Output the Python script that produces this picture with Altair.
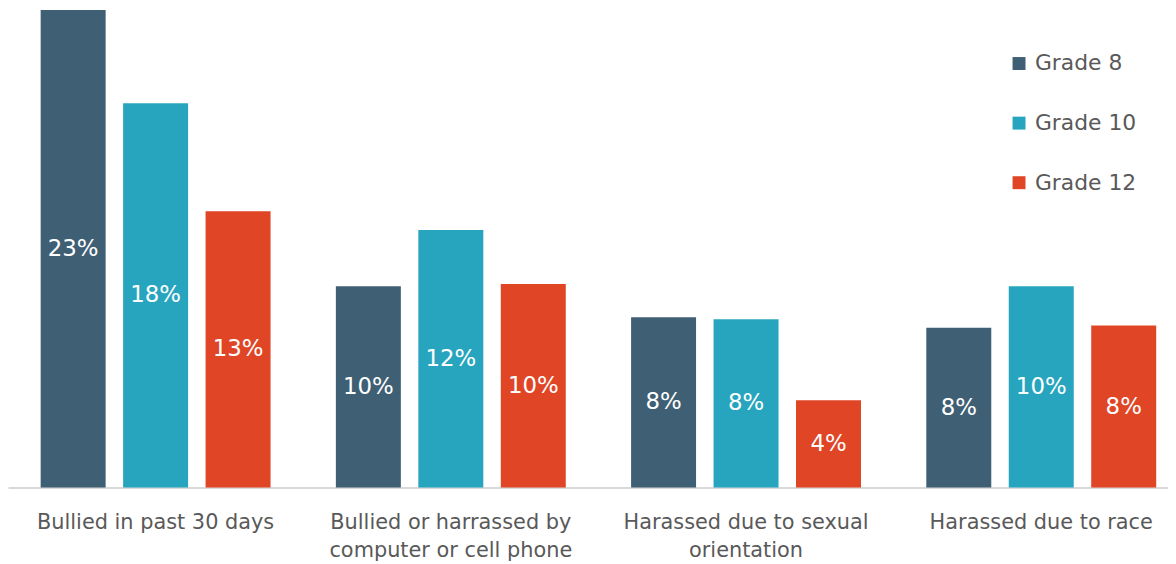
import altair as alt
import pandas as pd

categories = [
    "Bullied in past 30 days",
    "Bullied or harrassed by|computer or cell phone",
    "Harassed due to sexual|orientation",
    "Harassed due to race",
]
grades = ["Grade 8", "Grade 10", "Grade 12"]
grade8 = [23.0, 9.7, 8.2, 7.7]
grade10 = [18.5, 12.4, 8.1, 9.7]
grade12 = [13.3, 9.8, 4.2, 7.8]
labels8 = ["23%", "10%", "8%", "8%"]
labels10 = ["18%", "12%", "8%", "10%"]
labels12 = ["13%", "10%", "4%", "8%"]
colors = ["#3F5F75", "#27A5BE", "#E04526"]

rows = []
for g, vals, labs in zip(grades, [grade8, grade10, grade12], [labels8, labels10, labels12]):
    for c, v, l in zip(categories, vals, labs):
        rows.append({"category": c, "grade": g, "value": v, "label": l})
df = pd.DataFrame(rows)

FONT = "DejaVu Sans"
TXT = "#595959"

x_enc = alt.X("category:N", sort=categories,
              scale=alt.Scale(paddingInner=0, paddingOuter=0),
              axis=alt.Axis(title=None, labelAngle=0, ticks=False,
                            domainColor="#D9D9D9", domainWidth=2,
                            labelFont=FONT, labelFontSize=21, labelColor=TXT,
                            labelPadding=24, labelLineHeight=28, labelLimit=400,
                            labelExpr="split(datum.label, '|')"))
xo = alt.XOffset("grade:N", sort=grades,
                 scale=alt.Scale(paddingInner=0.212, paddingOuter=0.396))
y_scale = alt.Scale(domain=[0, 23], nice=False)

bars = alt.Chart(df).mark_bar().encode(
    x=x_enc,
    xOffset=xo,
    y=alt.Y("value:Q", scale=y_scale, axis=None),
    color=alt.Color("grade:N", sort=grades,
                    scale=alt.Scale(domain=grades, range=colors),
                    legend=alt.Legend(title=None, orient="none", legendX=1007, legendY=43,
                                      symbolType="square", symbolSize=170,
                                      symbolStrokeWidth=0,
                                      labelFont=FONT, labelFontSize=22, labelColor=TXT,
                                      rowPadding=38, labelOffset=5, labelLimit=300)),
)

texts = alt.Chart(df).transform_calculate(mid="datum.value / 2").mark_text(
    color="white", font=FONT, fontSize=23, baseline="middle"
).encode(
    x=alt.X("category:N", sort=categories),
    xOffset=xo,
    y=alt.Y("mid:Q", scale=y_scale),
    text="label:N",
)

chart = alt.layer(bars, texts).properties(
    width=1189, height=481,
    padding={"left": 0, "top": 0, "right": -21, "bottom": 0},
).configure_view(strokeWidth=0, stroke=None)

chart.save("out.html", embed_options={"renderer": "svg", "actions": False})
